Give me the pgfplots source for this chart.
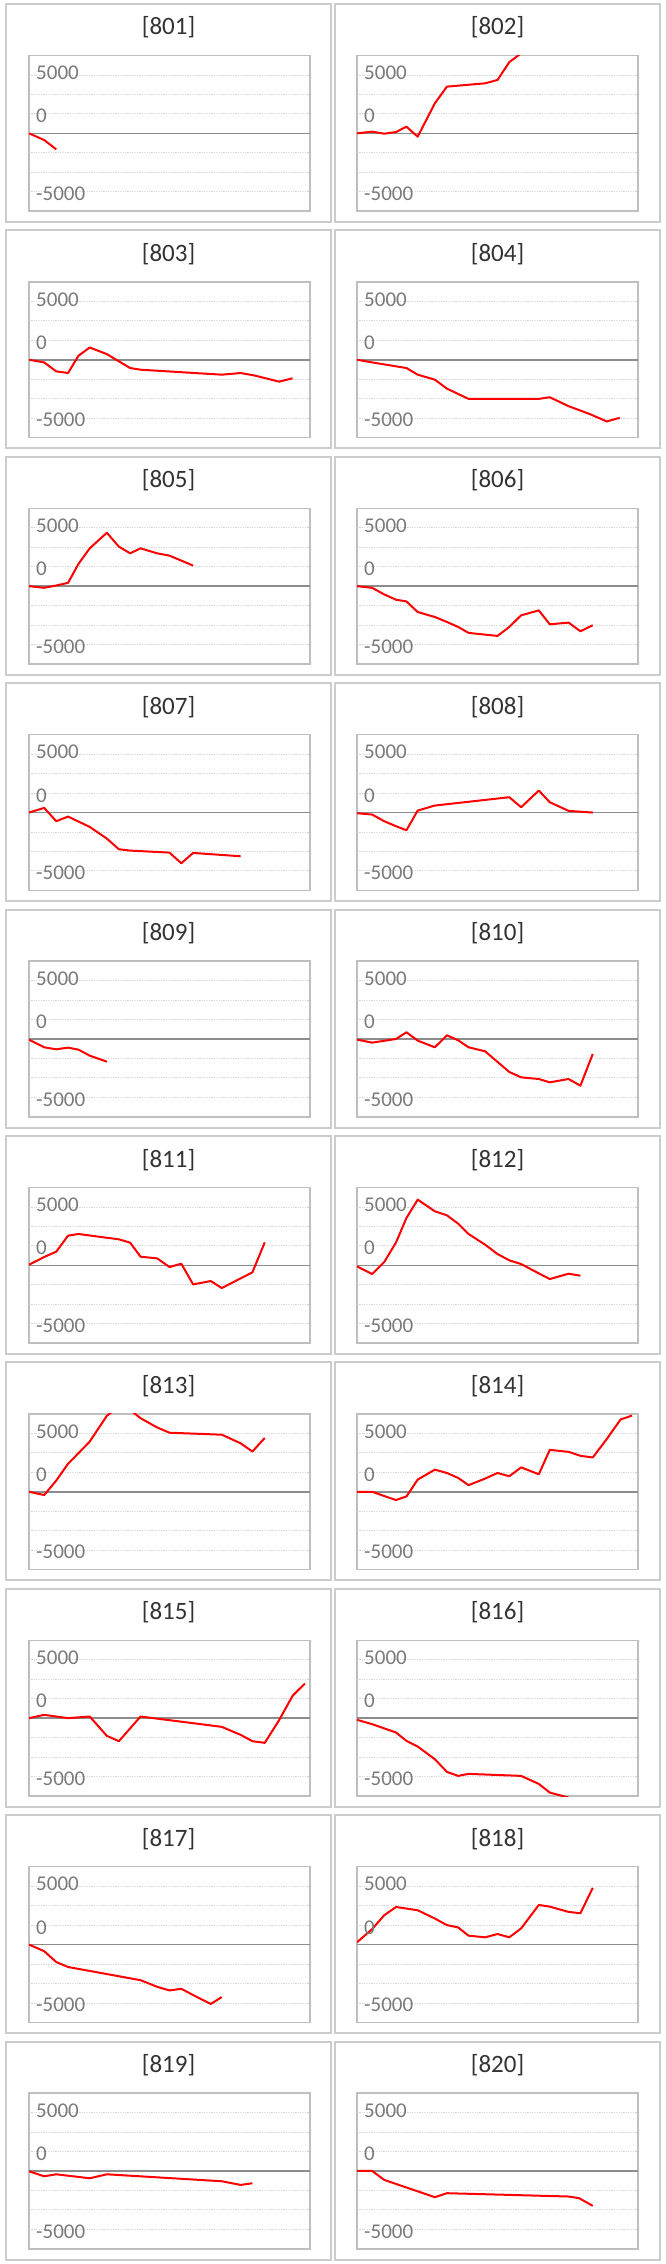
\documentclass[border=0pt]{standalone}
\usepackage{pgfplots}
\pgfplotsset{compat=1.18}
\usepackage{fontspec}
\setmainfont{Carlito}
\definecolor{panelgray}{HTML}{CCCCCC}
\definecolor{boxgray}{HTML}{BFBFBF}
\definecolor{gridgray}{HTML}{D4D4D4}
\definecolor{zerogray}{HTML}{8C8C8C}
\definecolor{tickgray}{HTML}{7A7A7A}
\definecolor{titlecol}{HTML}{333333}
\definecolor{linered}{HTML}{FF0000}
\pgfplotsset{
  panel/.style={
    scale only axis, width=281pt, height=155.7pt,
    xmin=0, xmax=100, ymin=-6666.67, ymax=6666.67,
    axis line style={draw=boxgray, line width=1.5pt},
    xtick=\empty,
    ytick={-5000,-3333.33,-1666.67,1666.67,3333.33,5000},
    yticklabels={},
    major tick length=0pt,
    ymajorgrids,
    grid style={gridgray, line width=0.9pt, dash pattern=on 1.2pt off 1.2pt},
    extra y ticks={0},
    extra y tick labels={},
    extra y tick style={grid style={zerogray, line width=1.5pt, solid}},
    clip=true,
  },
  redline/.style={linered, line width=2pt, line join=round, mark=none},
}
\newcommand{\ticklab}[2]{\node[anchor=base west, inner sep=0pt, text=tickgray, font=\fontsize{21}{25}\selectfont] at (axis cs:2.5,#1) {#2};}
\newcommand{\panel}[4]{%
  \pgfmathsetmacro\pfx{6+329*#1}%
  \pgfmathsetmacro\pfy{-(4+226.4*#2)}%
  \pgfmathsetmacro\ptx{168.5+329*#1}%
  \pgfmathsetmacro\pty{-(35+226.4*#2)}%
  \pgfmathsetmacro\pbx{29+328*#1}%
  \pgfmathsetmacro\pby{-(55.5+226.4*#2)}%
  \draw[panelgray, line width=2pt] (\pfx pt,\pfy pt) rectangle ++(325pt,-218pt);
  \node[text=titlecol, font=\fontsize{25}{30}\selectfont, inner sep=0pt, anchor=base] at (\ptx pt,\pty pt) {[#3]};
  \begin{axis}[panel, at={(\pbx pt,\pby pt)}, anchor=north west]
    \addplot[redline] coordinates {#4};
    \ticklab{4600}{5000}
    \ticklab{900}{0}
    \ticklab{-5745}{-5000}
  \end{axis}
}
\begin{document}
\begin{tikzpicture}
\useasboundingbox (0,0) rectangle (665pt,-2264pt);
\fill[white] (0,0) rectangle (665pt,-2264pt);
\panel{0}{0}{801}{(0,0)(5.4,-571)(9.7,-1371)}
\panel{1}{0}{802}{(0,0)(5.4,143)(9.7,-29)(13.9,114)(17.6,571)(21.6,-286)(27.7,2571)(32.0,4000)(45.6,4286)(50.0,4571)(54.2,6100)(58.4,6850)}
\panel{0}{1}{803}{(0,0)(5.4,-227)(9.7,-994)(13.9,-1136)(17.6,341)(21.6,1051)(27.7,483)(36.0,-710)(39.7,-852)(68.6,-1278)(75.3,-1136)(80.0,-1335)(89.0,-1874)(93.8,-1590)}
\panel{1}{1}{804}{(0,0)(5.4,-227)(17.6,-710)(21.6,-1278)(27.7,-1704)(32.0,-2471)(39.7,-3351)(64.7,-3351)(68.6,-3209)(75.3,-3976)(82.6,-4629)(88.9,-5282)(93.5,-4970)}
\panel{0}{2}{805}{(0,0)(5.4,-142)(9.7,57)(13.9,284)(17.6,1903)(21.6,3238)(27.7,4572)(32.0,3380)(36.0,2812)(39.7,3238)(45.6,2812)(50.0,2613)(54.2,2187)(58.4,1761)}
\panel{1}{2}{806}{(0,0)(5.4,-142)(9.7,-710)(13.9,-1164)(17.6,-1306)(21.6,-2215)(27.7,-2641)(32.0,-3067)(36.0,-3493)(39.7,-4004)(50.0,-4260)(54.2,-3493)(58.4,-2499)(64.7,-2073)(68.6,-3266)(75.3,-3124)(79.5,-3862)(83.9,-3351)}
\panel{0}{3}{807}{(0,0)(5.4,400)(9.7,-743)(13.9,-343)(21.6,-1229)(27.7,-2229)(32.0,-3143)(36.0,-3257)(50.0,-3429)(54.2,-4343)(58.4,-3457)(75.3,-3743)}
\panel{1}{3}{808}{(0,-57)(5.4,-171)(9.7,-743)(13.9,-1171)(17.6,-1514)(21.6,171)(27.7,600)(54.2,1314)(58.4,457)(64.7,1886)(68.6,886)(75.3,143)(83.9,0)}
\panel{0}{4}{809}{(0,-57)(5.4,-714)(9.7,-886)(13.9,-743)(17.6,-914)(21.6,-1429)(27.7,-1943)}
\panel{1}{4}{810}{(0,-57)(5.4,-314)(13.9,0)(17.6,571)(21.6,-143)(27.7,-714)(32.0,314)(36.0,-114)(39.7,-714)(45.6,-1057)(54.2,-2829)(58.4,-3286)(64.7,-3429)(68.6,-3714)(75.3,-3429)(79.5,-4000)(83.9,-1286)}
\panel{0}{5}{811}{(0,57)(5.4,714)(9.7,1171)(13.9,2543)(17.6,2686)(32.0,2229)(36.0,1943)(39.7,743)(45.6,600)(50.0,-143)(54.2,143)(58.4,-1629)(64.7,-1343)(68.6,-1943)(75.3,-1114)(79.5,-600)(83.9,1971)}
\panel{1}{5}{812}{(0,-86)(5.4,-743)(9.7,286)(13.9,1971)(17.6,4057)(21.6,5629)(27.7,4629)(32.0,4286)(36.0,3571)(39.7,2686)(45.6,1771)(50.0,971)(54.2,429)(58.4,114)(64.7,-686)(68.6,-1171)(75.3,-714)(79.5,-886)}
\panel{0}{6}{813}{(0,0)(5.4,-282)(9.7,960)(13.9,2401)(17.6,3305)(21.6,4294)(27.7,6500)(32.0,7300)(36.0,7000)(39.7,6300)(45.6,5508)(50.0,5056)(68.6,4887)(75.3,4153)(79.5,3446)(83.9,4605)}
\panel{1}{6}{814}{(0,0)(5.4,0)(9.7,-367)(13.9,-706)(17.6,-395)(21.6,1045)(27.7,1893)(32.0,1610)(36.0,1186)(39.7,565)(45.6,1130)(50.0,1610)(54.2,1328)(58.4,2090)(64.7,1497)(68.6,3588)(75.3,3418)(79.5,3079)(83.9,2938)(88.8,4492)(93.8,6187)(97.9,6526)}
\panel{0}{7}{815}{(0,0)(5.4,286)(13.9,0)(21.6,143)(27.7,-1514)(32.0,-1971)(39.7,143)(68.6,-743)(75.3,-1429)(79.5,-1971)(83.9,-2114)(89.0,-171)(93.8,1914)(98.2,2971)}
\panel{1}{7}{816}{(0,-143)(5.4,-514)(13.9,-1229)(17.6,-1943)(21.6,-2429)(27.7,-3514)(32.0,-4600)(36.0,-4943)(39.7,-4771)(58.4,-4943)(64.7,-5629)(68.6,-6371)(75.3,-6800)}
\panel{0}{8}{817}{(0,0)(5.4,-565)(9.7,-1497)(13.9,-1921)(39.7,-3051)(45.6,-3616)(50.0,-3927)(54.2,-3786)(58.4,-4322)(64.7,-5085)(68.6,-4492)}
\panel{1}{8}{818}{(0,198)(5.4,1328)(9.7,2514)(13.9,3220)(21.6,2938)(27.7,2232)(32.0,1667)(36.0,1469)(39.7,763)(45.6,621)(50.0,904)(54.2,621)(58.4,1384)(64.7,3390)(68.6,3249)(75.3,2797)(79.5,2684)(83.9,4859)}
\panel{0}{9}{819}{(0,-28)(5.4,-454)(9.7,-284)(21.6,-625)(27.7,-284)(68.6,-880)(75.3,-1193)(79.5,-1051)}
\panel{1}{9}{820}{(0,0)(5.4,0)(9.7,-767)(27.7,-2244)(32.0,-1903)(75.3,-2187)(79.0,-2329)(83.9,-2982)}
\end{tikzpicture}
\end{document}
